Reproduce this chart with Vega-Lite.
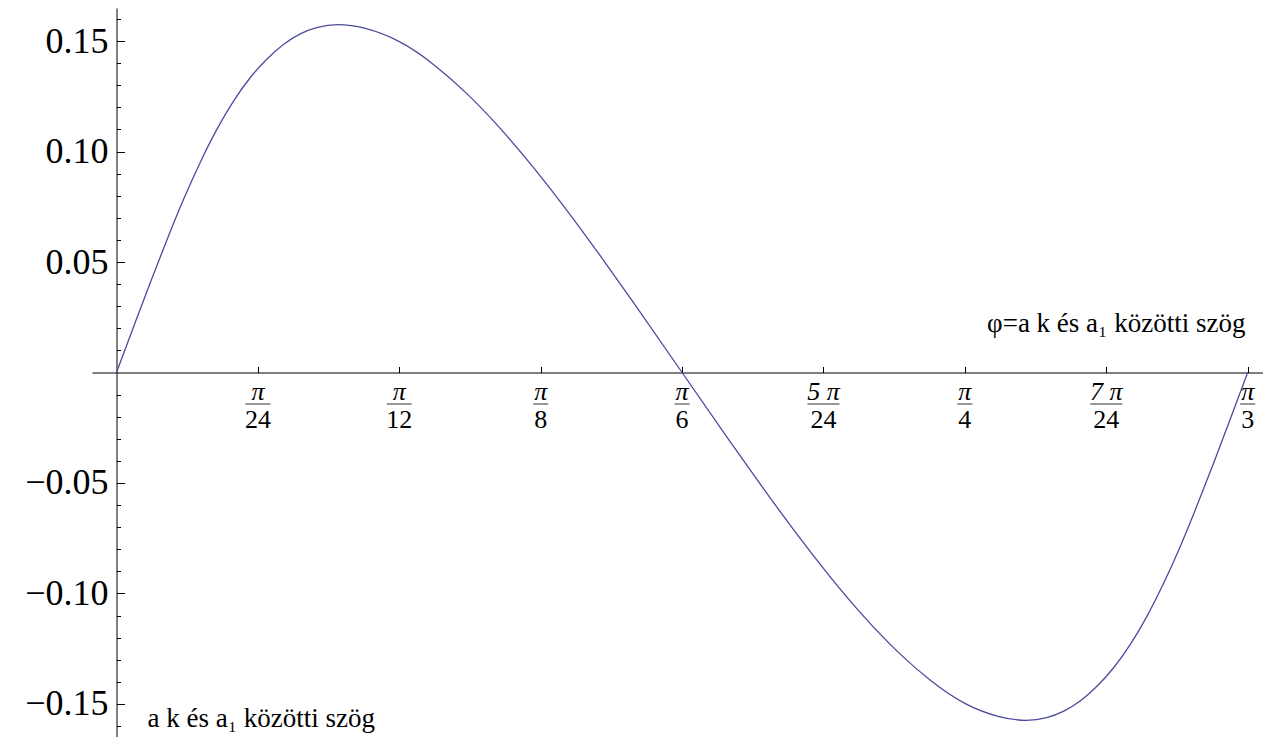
{
  "$schema": "https://vega.github.io/schema/vega-lite/v6.json",
  "width": 1171,
  "height": 729,
  "autosize": {"type": "none"},
  "padding": {"left": 92, "top": 8, "right": 0, "bottom": 0},
  "background": "white",
  "config": {"view": {"stroke": null}, "font": "Liberation Serif, Times New Roman, serif"},
  "datasets": {
    "curve": [
      {"phi": 0, "val": 0},
      {"phi": 0.0159, "val": 0.0208},
      {"phi": 0.0313, "val": 0.0408},
      {"phi": 0.0468, "val": 0.0603},
      {"phi": 0.0622, "val": 0.0788},
      {"phi": 0.0776, "val": 0.0955},
      {"phi": 0.0930, "val": 0.1105},
      {"phi": 0.1085, "val": 0.1234},
      {"phi": 0.1239, "val": 0.1339},
      {"phi": 0.1393, "val": 0.1422},
      {"phi": 0.1548, "val": 0.1490},
      {"phi": 0.1702, "val": 0.1536},
      {"phi": 0.1856, "val": 0.1565},
      {"phi": 0.2041, "val": 0.1579},
      {"phi": 0.2288, "val": 0.1565},
      {"phi": 0.2624, "val": 0.1505},
      {"phi": 0.2930, "val": 0.1401},
      {"phi": 0.3245, "val": 0.1266},
      {"phi": 0.3550, "val": 0.1110},
      {"phi": 0.3856, "val": 0.0933},
      {"phi": 0.4171, "val": 0.0735},
      {"phi": 0.4476, "val": 0.0531},
      {"phi": 0.4781, "val": 0.0321},
      {"phi": 0.5236, "val": 0},
      {"phi": 0.5691, "val": -0.0321},
      {"phi": 0.5996, "val": -0.0531},
      {"phi": 0.6301, "val": -0.0735},
      {"phi": 0.6616, "val": -0.0933},
      {"phi": 0.6922, "val": -0.1110},
      {"phi": 0.7227, "val": -0.1266},
      {"phi": 0.7542, "val": -0.1401},
      {"phi": 0.7848, "val": -0.1505},
      {"phi": 0.8184, "val": -0.1565},
      {"phi": 0.8431, "val": -0.1579},
      {"phi": 0.8616, "val": -0.1565},
      {"phi": 0.8770, "val": -0.1536},
      {"phi": 0.8924, "val": -0.1490},
      {"phi": 0.9079, "val": -0.1422},
      {"phi": 0.9233, "val": -0.1339},
      {"phi": 0.9387, "val": -0.1234},
      {"phi": 0.9542, "val": -0.1105},
      {"phi": 0.9696, "val": -0.0955},
      {"phi": 0.9850, "val": -0.0788},
      {"phi": 1.0004, "val": -0.0603},
      {"phi": 1.0159, "val": -0.0408},
      {"phi": 1.0313, "val": -0.0208},
      {"phi": 1.0472, "val": 0}
    ],
    "ticks": [
      {"phi": 0.1309, "num": "π", "den": "24"},
      {"phi": 0.2618, "num": "π", "den": "12"},
      {"phi": 0.3927, "num": "π", "den": "8"},
      {"phi": 0.5236, "num": "π", "den": "6"},
      {"phi": 0.6545, "num": "5 π", "den": "24"},
      {"phi": 0.7854, "num": "π", "den": "4"},
      {"phi": 0.9163, "num": "7 π", "den": "24"},
      {"phi": 1.0472, "num": "π", "den": "3"}
    ]
  },
  "layer": [
    {
      "data": {"name": "curve"},
      "mark": {"type": "line", "color": "#4b4b9e", "strokeWidth": 1.3, "interpolate": "basis"},
      "encoding": {
        "x": {
          "field": "phi", "type": "quantitative",
          "scale": {"domain": [-0.02268, 1.0614], "nice": false, "zero": false},
          "axis": {
            "orient": "bottom", "offset": -364.5,
            "values": [0.1309, 0.2618, 0.3927, 0.5236, 0.6545, 0.7854, 0.9163, 1.0472],
            "labels": false, "tickSize": -6, "tickColor": "black", "tickWidth": 1,
            "domainColor": "black", "domainWidth": 1, "grid": false,
            "title": "φ=a k és a₁ közötti szög",
            "titleX": 1153, "titleY": -41, "titleAlign": "right", "titleBaseline": "alphabetic",
            "titleFont": "Liberation Serif, Times New Roman, serif", "titleFontSize": 27, "titleFontWeight": "normal", "titleColor": "black"
          }
        },
        "y": {
          "field": "val", "type": "quantitative",
          "scale": {"domain": [-0.165, 0.165], "nice": false, "zero": false},
          "axis": {
            "orient": "left", "offset": -24.5,
            "values": [-0.15, -0.1, -0.05, 0.05, 0.1, 0.15],
            "format": ".2f", "tickSize": -8, "labelPadding": 16.5,
            "labelFont": "Liberation Serif, Times New Roman, serif", "labelFontSize": 36, "labelColor": "black",
            "labelBaseline": "middle", "labelAlign": "right", "labelFlush": false, "labelOverlap": false,
            "tickColor": "black", "domainColor": "black", "domainWidth": 1, "grid": false,
            "title": "a k és a₁ közötti szög",
            "titleAngle": 0, "titleX": 30.5, "titleY": 718.7, "titleAlign": "left", "titleBaseline": "alphabetic",
            "titleFont": "Liberation Serif, Times New Roman, serif", "titleFontSize": 27, "titleFontWeight": "normal", "titleColor": "black"
          }
        }
      }
    },
    {
      "data": {"name": "ticks"},
      "mark": {"type": "text", "fontStyle": "italic", "fontSize": 26, "dy": 27.5, "baseline": "alphabetic", "align": "center", "color": "black", "font": "Liberation Serif, Times New Roman, serif"},
      "encoding": {
        "x": {"field": "phi", "type": "quantitative", "axis": null},
        "y": {
          "datum": 0, "type": "quantitative",
          "axis": {
            "orient": "left", "offset": -24.5,
            "values": [-0.16, -0.14, -0.13, -0.12, -0.11, -0.09, -0.08, -0.07, -0.06, -0.04, -0.03, -0.02, -0.01, 0.01, 0.02, 0.03, 0.04, 0.06, 0.07, 0.08, 0.09, 0.11, 0.12, 0.13, 0.14, 0.16],
            "labels": false, "domain": false, "tickSize": -4, "tickColor": "black", "grid": false, "title": null
          }
        },
        "text": {"field": "num"}
      }
    },
    {
      "data": {"name": "ticks"},
      "mark": {"type": "text", "fontSize": 26, "dy": 55.5, "baseline": "alphabetic", "align": "center", "color": "black", "font": "Liberation Serif, Times New Roman, serif"},
      "encoding": {
        "x": {"field": "phi", "type": "quantitative", "axis": null},
        "y": {"datum": 0, "type": "quantitative", "axis": null},
        "text": {"field": "den"}
      }
    },
    {
      "data": {"name": "ticks"},
      "transform": [{"filter": "length(datum.den) == 1 && length(datum.num) == 1"}],
      "mark": {"type": "tick", "orient": "horizontal", "size": 15, "thickness": 1, "color": "#333", "opacity": 1, "yOffset": 31.5},
      "encoding": {
        "x": {"field": "phi", "type": "quantitative", "axis": null},
        "y": {"datum": 0, "type": "quantitative", "axis": null}
      }
    },
    {
      "data": {"name": "ticks"},
      "transform": [{"filter": "length(datum.den) == 2 && length(datum.num) == 1"}],
      "mark": {"type": "tick", "orient": "horizontal", "size": 25, "thickness": 1, "color": "#333", "opacity": 1, "yOffset": 31.5},
      "encoding": {
        "x": {"field": "phi", "type": "quantitative", "axis": null},
        "y": {"datum": 0, "type": "quantitative", "axis": null}
      }
    },
    {
      "data": {"name": "ticks"},
      "transform": [{"filter": "length(datum.num) > 1"}],
      "mark": {"type": "tick", "orient": "horizontal", "size": 32, "thickness": 1, "color": "#333", "opacity": 1, "yOffset": 31.5},
      "encoding": {
        "x": {"field": "phi", "type": "quantitative", "axis": null},
        "y": {"datum": 0, "type": "quantitative", "axis": null}
      }
    }
  ],
  "resolve": {"axis": {"x": "independent", "y": "independent"}}
}
